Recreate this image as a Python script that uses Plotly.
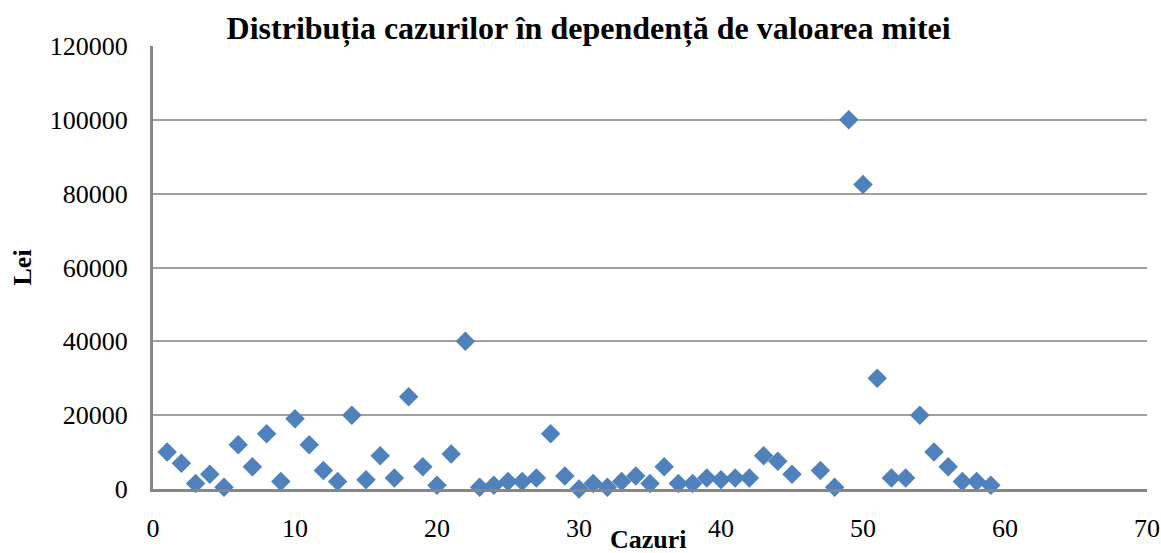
import plotly.graph_objects as go

cases = [1, 2, 3, 4, 5, 6, 7, 8, 9, 10, 11, 12, 13, 14, 15, 16, 17, 18, 19, 20,
         21, 22, 23, 24, 25, 26, 27, 28, 29, 30, 31, 32, 33, 34, 35, 36, 37, 38, 39, 40,
         41, 42, 43, 44, 45, 47, 48, 49, 50, 51, 52, 53, 54, 55, 56, 57, 58, 59]
lei = [10000, 7000, 1500, 4000, 500, 12000, 6000, 15000, 2000, 19000,
       12000, 5000, 2000, 20000, 2500, 9000, 3000, 25000, 6000, 1000,
       9500, 40000, 500, 1000, 2000, 2000, 3000, 15000, 3500, 0,
       1500, 500, 2000, 3500, 1500, 6000, 1500, 1500, 3000, 2500,
       3000, 3000, 9000, 7500, 4000, 5000, 500, 100000, 82500, 30000,
       3000, 3000, 20000, 10000, 6000, 2000, 2000, 1000]

font_family = "Liberation Serif, Times New Roman, serif"

fig = go.Figure()
fig.add_trace(go.Scatter(
    x=cases, y=lei, mode="markers",
    marker=dict(symbol="diamond", size=15, color="#4F81BD",
                line=dict(color="#4F81BD", width=0)),
    showlegend=False, cliponaxis=False,
))

fig.update_layout(
    width=1161, height=553,
    margin=dict(l=153, r=14, t=46, b=64),
    paper_bgcolor="white", plot_bgcolor="white",
    font=dict(family=font_family, size=26, color="black"),
    title=dict(text="<b>Distribuția cazurilor în dependență de valoarea mitei</b>",
               x=0.507, xanchor="center", y=0.949, yanchor="middle",
               font=dict(family=font_family, size=32, color="black")),
    xaxis=dict(range=[0, 70], dtick=10, showgrid=False, zeroline=False,
               showline=True, linecolor="#868686", linewidth=3,
               ticks="", ticklabelstandoff=14, automargin=False,
               ticklabeloverflow="allow", tickformat="d"),
    yaxis=dict(range=[0, 120000], dtick=20000, showgrid=True, gridcolor="#a0a0a0",
               gridwidth=2, zeroline=False, showline=True, linecolor="#868686",
               linewidth=3, ticks="", ticklabelstandoff=17, automargin=False,
               tickformat="d"),
    annotations=[
        dict(text="<b>Cazuri</b>", xref="paper", yref="paper", x=0.498, y=-0.0,
             xanchor="center", yanchor="middle", yshift=-50, showarrow=False,
             font=dict(family=font_family, size=26)),
        dict(text="<b>Lei</b>", xref="paper", yref="paper", x=0, y=0.5,
             xanchor="center", yanchor="middle", xshift=-131, showarrow=False,
             textangle=-90, font=dict(family=font_family, size=26)),
    ],
)

fig.write_html(
    "out.html",
    config={"displayModeBar": False},
    post_script="document.body.style.margin='0';document.body.style.overflow='hidden';",
)
